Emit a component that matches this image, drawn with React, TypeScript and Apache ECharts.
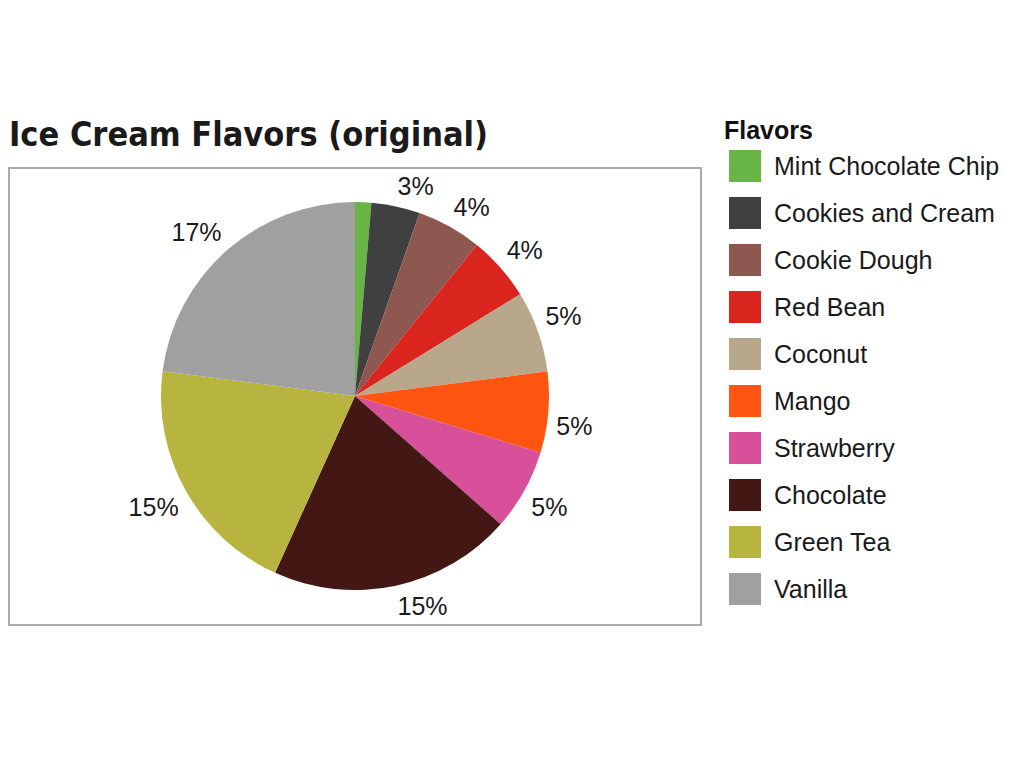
import React, { useEffect, useRef } from "react";
import * as echarts from "echarts";

const flavors = [
  "Mint Chocolate Chip",
  "Cookies and Cream",
  "Cookie Dough",
  "Red Bean",
  "Coconut",
  "Mango",
  "Strawberry",
  "Chocolate",
  "Green Tea",
  "Vanilla",
];
const values = [1, 3, 4, 4, 5, 5, 5, 15, 15, 17];
const colors = [
  "#69b446",
  "#404040",
  "#8e5750",
  "#d9251e",
  "#b8a78a",
  "#ff5511",
  "#d84f9a",
  "#431814",
  "#b8b440",
  "#a0a0a0",
];
const hiddenLabels = ["Mint Chocolate Chip"];

const CX = 355;
const CY = 396;
const R = 194;
const LABEL_GAP = 8;

export default function App() {
  const ref = useRef<HTMLDivElement>(null);
  useEffect(() => {
    if (!ref.current) return;
    const chart = echarts.init(ref.current, null, { renderer: "svg" });
    const total = values.reduce((a, b) => a + b, 0);
    const midAngles: number[] = [];
    let acc = 0;
    values.forEach((v) => {
      midAngles.push(((acc + v / 2) / total) * Math.PI * 2);
      acc += v;
    });
    const data = flavors.map((name, i) => ({
      name,
      value: values[i],
      itemStyle: { color: colors[i] },
      label: { show: !hiddenLabels.includes(name) },
    }));
    chart.setOption({
      animation: false,
      backgroundColor: "#ffffff",
      title: [
        {
          text: "Ice Cream Flavors (original)",
          left: 9,
          top: 117,
          padding: 0,
          textStyle: {
            fontFamily: "DejaVu Sans Condensed",
            fontWeight: "bold",
            fontSize: 34,
            color: "#1a1a1a",
          },
        },
        {
          text: "Flavors",
          left: 724,
          top: 117,
          padding: 0,
          textStyle: {
            fontFamily: "Liberation Sans",
            fontWeight: "bold",
            fontSize: 25,
            color: "#111111",
          },
        },
      ],
      legend: {
        orient: "vertical",
        left: 729,
        top: 150,
        padding: 0,
        itemWidth: 32,
        itemHeight: 32,
        itemGap: 15,
        icon: "rect",
        data: flavors,
        selectedMode: false,
        textStyle: {
          fontFamily: "Liberation Sans",
          fontSize: 25,
          color: "#1a1a1a",
          padding: [0, 0, 0, 8],
        },
      },
      graphic: [
        {
          type: "rect",
          shape: { x: 9, y: 168, width: 692, height: 457 },
          style: { fill: "none", stroke: "#aaaaaa", lineWidth: 2 },
          silent: true,
        },
      ],
      series: [
        {
          type: "pie",
          center: [CX, CY],
          radius: [0, R],
          startAngle: 90,
          clockwise: true,
          avoidLabelOverlap: false,
          label: {
            show: true,
            position: "outside",
            formatter: "{c}%",
            fontFamily: "Liberation Sans",
            fontSize: 25,
            color: "#1a1a1a",
          },
          labelLine: { show: false, length: LABEL_GAP, length2: 0 },
          labelLayout: (params: any) => {
            const a = midAngles[params.dataIndex];
            const s = Math.sin(a);
            const c = Math.cos(a);
            return {
              x: CX + (R + LABEL_GAP) * s,
              y: CY - (R + LABEL_GAP) * c,
              align: s >= 0 ? "left" : "right",
              verticalAlign: c >= 0 ? "bottom" : "top",
            };
          },
          emphasis: { disabled: true },
          data,
          silent: true,
        },
      ],
    });
    return () => chart.dispose();
  }, []);
  return (
    <div
      ref={ref}
      style={{ position: "fixed", left: 0, top: 0, width: 1024, height: 768 }}
    />
  );
}
